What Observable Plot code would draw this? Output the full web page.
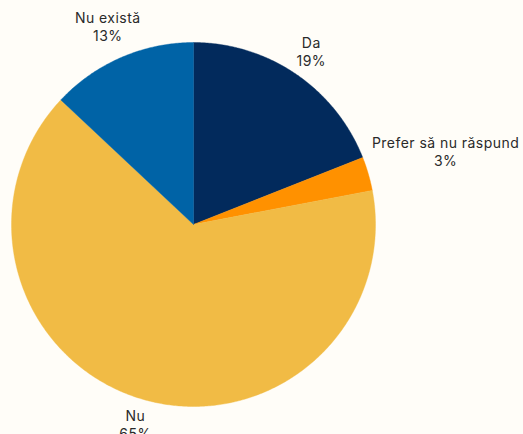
<!DOCTYPE html>
<html><head><meta charset="utf-8">
<script src="https://cdn.jsdelivr.net/npm/d3@7"></script>
<script src="https://cdn.jsdelivr.net/npm/@observablehq/plot@0.6"></script>
<style>
html,body{margin:0;padding:0;background:#fffdf8;overflow:hidden;}
svg text{letter-spacing:0.45px;}
</style></head><body><div id="chart"></div>
<script>
const categories = ["Da", "Prefer să nu răspund", "Nu", "Nu există"];
const values = [19, 3, 65, 13];
const percentLabels = ["19%", "3%", "65%", "13%"];
const colors = ["#022a5c", "#ff9100", "#f1bb45", "#0063a6"];

const W = 523, H = 434, cx = 193, cy = 224, R = 182;
const fontFamily = "Inter, 'Open Sans', sans-serif";
const fontSize = 14;
const lineH = 1.3;

const ctx = document.createElement("canvas").getContext("2d");
ctx.font = `${fontSize}px ${fontFamily}`;
try { ctx.letterSpacing = "0.45px"; } catch (e) {}

const total = d3.sum(values);
let acc = 0;
const slicePts = [];
const labels = [];
categories.forEach((c, i) => {
  const a0 = acc / total * 2 * Math.PI;
  acc += values[i];
  const a1 = acc / total * 2 * Math.PI;
  slicePts.push({cat: c, x: 0, y: 0});
  const n = Math.max(2, Math.ceil((a1 - a0) / (Math.PI / 360)));
  for (let k = 0; k <= n; k++) {
    const a = a0 + (a1 - a0) * k / n;
    slicePts.push({cat: c, x: Math.sin(a), y: Math.cos(a)});
  }
  slicePts.push({cat: c, x: 0, y: 0});
  const am = (a0 + a1) / 2;
  const s = Math.sin(am), co = Math.cos(am);
  const hw = Math.max(ctx.measureText(c).width, ctx.measureText(percentLabels[i]).width) / 2;
  const hh = fontSize * lineH;
  const d = 1 + (5 + hw * Math.abs(s) + hh * 0.95 * Math.abs(co)) / R;
  labels.push({text: c + "\n" + percentLabels[i], x: d * s, y: d * co});
});

const chart = Plot.plot({
  width: W, height: H,
  margin: 0,
  style: {background: "#fffdf8", fontFamily, fontSize: fontSize + "px", color: "#2a2a2a"},
  x: {domain: [-cx / R, (W - cx) / R], range: [0, W], axis: null},
  y: {domain: [(cy - H) / R, cy / R], range: [H, 0], axis: null},
  color: {domain: categories, range: colors},
  marks: [
    Plot.line(slicePts, {x: "x", y: "y", z: "cat", fill: "cat", stroke: "cat", strokeWidth: 0.4, curve: "linear"}),
    Plot.text(labels, {x: "x", y: "y", text: "text", textAnchor: "middle", lineAnchor: "middle", lineHeight: lineH, fontSize, fill: "#2a2a2a"})
  ]
});
chart.style.overflow = "hidden";
document.getElementById("chart").append(chart);
</script></body></html>
